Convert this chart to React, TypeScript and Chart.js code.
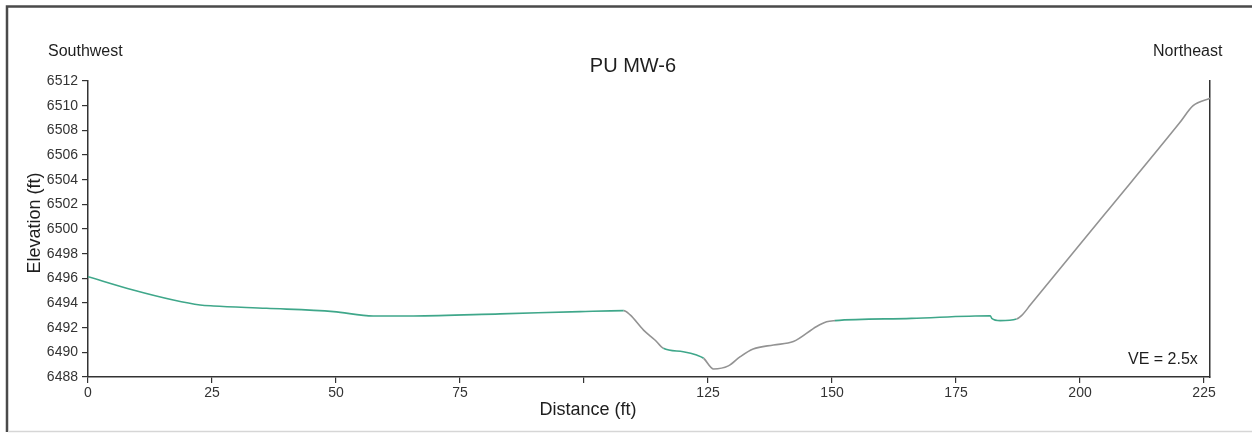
import React, { useEffect, useRef } from "react";
import { Chart, registerables } from "chart.js";

Chart.register(...registerables);

// Profile data (distance in ft, elevation in ft)
const distances = [
  0, 9.1, 17.2, 22.6, 25.3, 36.0, 49.5, 57.5, 65.6, 83.1, 99.2, 108.0,
  109.3, 112.0, 114.3, 116.0,
  120.0, 122.7, 124.1,
  126.1, 129.1, 131.5, 134.1, 138.2, 142.2, 146.9, 148.9, 150.6,
  166.0, 181.9,
  182.2, 183.9, 187.2, 188.2,
  190.0, 205.0, 220.0, 222.8, 226.2,
];
const elevations = [
  6496.13, 6495.05, 6494.24, 6493.84, 6493.76, 6493.57, 6493.3, 6492.95, 6492.95, 6493.12, 6493.3, 6493.38,
  6493.03, 6491.8, 6491.0, 6490.33,
  6490.05, 6489.78, 6489.52,
  6488.65, 6488.9, 6489.65, 6490.27, 6490.6, 6490.87, 6492.1, 6492.48, 6492.57,
  6492.75, 6492.97,
  6492.76, 6492.57, 6492.7, 6492.97,
  6493.85, 6501.21, 6508.57, 6510.0, 6510.6,
];
// surface type for the segment that starts at each point: "g" = green, "r" = grey
const segmentTypes = [
  "g", "g", "g", "g", "g", "g", "g", "g", "g", "g", "g", "r",
  "r", "r", "r", "g",
  "g", "g", "r",
  "r", "r", "r", "r", "r", "r", "r", "r", "g",
  "g", "g",
  "g", "g", "r", "r",
  "r", "r", "r", "r", "r",
];

const xTicks = [0, 25, 50, 75, 100, 125, 150, 175, 200, 225];
const hiddenXTickLabels = [100];
const yTicks = [6488, 6490, 6492, 6494, 6496, 6498, 6500, 6502, 6504, 6506, 6508, 6510, 6512];

const chartTitle = "PU MW-6";
const leftLabel = "Southwest";
const rightLabel = "Northeast";
const veLabel = "VE = 2.5x";
const xTitle = "Distance (ft)";
const yTitle = "Elevation (ft)";

const FONT = "'Liberation Sans', Arial, Helvetica, sans-serif";
const GREEN = "#3fa78a";
const GREY = "#939393";
const AXIS = "#333333";

export default function App() {
  const canvasRef = useRef<HTMLCanvasElement | null>(null);

  useEffect(() => {
    const canvas = canvasRef.current;
    if (!canvas) return;

    const decor = {
      id: "decor",
      afterDraw(chart: any) {
        const ctx = chart.ctx as CanvasRenderingContext2D;
        ctx.save();
        // frame
        ctx.strokeStyle = "#4a4a4a";
        ctx.lineWidth = 2.5;
        ctx.beginPath();
        ctx.moveTo(7, 432);
        ctx.lineTo(7, 6.5);
        ctx.lineTo(1252, 6.5);
        ctx.stroke();
        ctx.strokeStyle = "#d6d6d6";
        ctx.lineWidth = 1.5;
        ctx.beginPath();
        ctx.moveTo(8, 431.5);
        ctx.lineTo(1252, 431.5);
        ctx.stroke();

        ctx.fillStyle = "#1e1e1e";
        ctx.textBaseline = "middle";
        ctx.font = `16px ${FONT}`;
        ctx.textAlign = "left";
        ctx.fillText(leftLabel, 48, 52);
        ctx.fillText(rightLabel, 1153, 52);
        ctx.fillText(veLabel, 1128, 360);
        ctx.font = `20px ${FONT}`;
        ctx.textAlign = "center";
        ctx.fillText(chartTitle, 633, 66);
        ctx.font = `18px ${FONT}`;
        ctx.fillText(xTitle, 588, 410);
        ctx.translate(35, 223);
        ctx.rotate(-Math.PI / 2);
        ctx.fillText(yTitle, 0, 0);
        ctx.restore();
      },
    };

    const points = distances.map((d, i) => ({ x: d, y: elevations[i] }));

    const chart = new Chart(canvas, {
      type: "line",
      data: {
        datasets: [
          {
            label: "Ground surface",
            data: points,
            borderWidth: 1.6,
            pointRadius: 0,
            cubicInterpolationMode: "monotone",
            borderColor: GREEN,
            segment: {
              borderColor: (c: any) => (segmentTypes[c.p0DataIndex] === "g" ? GREEN : GREY),
            },
          } as any,
        ],
      },
      plugins: [decor],
      options: {
        responsive: false,
        animation: false,
        events: [],
        layout: { padding: { left: 0, right: 42, top: 81, bottom: 0 } },
        plugins: {
          legend: { display: false },
          tooltip: { enabled: false },
          title: { display: false },
        },
        scales: {
          x: {
            type: "linear",
            min: 0,
            max: 226.2,
            afterFit: (s: any) => {
              s.height = 57;
            },
            afterBuildTicks: (s: any) => {
              s.ticks = xTicks.map((v) => ({ value: v }));
            },
            ticks: {
              autoSkip: false,
              maxRotation: 0,
              includeBounds: false,
              padding: 2,
              color: AXIS,
              font: { family: FONT, size: 14 },
              callback: (v: any) => (hiddenXTickLabels.includes(Number(v)) ? "" : String(v)),
            },
            grid: { drawOnChartArea: false, drawTicks: true, tickLength: 6, color: AXIS, lineWidth: 1.2 },
            border: { display: true, color: AXIS, width: 1.5 },
          },
          y: {
            type: "linear",
            position: "left",
            min: 6488,
            max: 6512,
            afterFit: (s: any) => {
              s.width = 88;
            },
            afterBuildTicks: (s: any) => {
              s.ticks = yTicks.map((v) => ({ value: v }));
            },
            ticks: {
              autoSkip: false,
              includeBounds: false,
              padding: 4,
              color: AXIS,
              font: { family: FONT, size: 14 },
              callback: (v: any) => String(v),
            },
            grid: { drawOnChartArea: false, drawTicks: true, tickLength: 6, color: AXIS, lineWidth: 1.2 },
            border: { display: true, color: AXIS, width: 1.5 },
          },
          y2: {
            type: "linear",
            position: "right",
            min: 6488,
            max: 6512,
            afterFit: (s: any) => {
              s.width = 0;
            },
            ticks: { display: false },
            grid: { display: false, drawOnChartArea: false, drawTicks: false },
            border: { display: true, color: AXIS, width: 1.5 },
          },
        },
      },
    });

    return () => chart.destroy();
  }, []);

  return (
    <div style={{ position: "fixed", left: 0, top: 0, width: 1252, height: 434, background: "#fff" }}>
      <canvas ref={canvasRef} width={1252} height={434} style={{ display: "block" }} />
    </div>
  );
}
